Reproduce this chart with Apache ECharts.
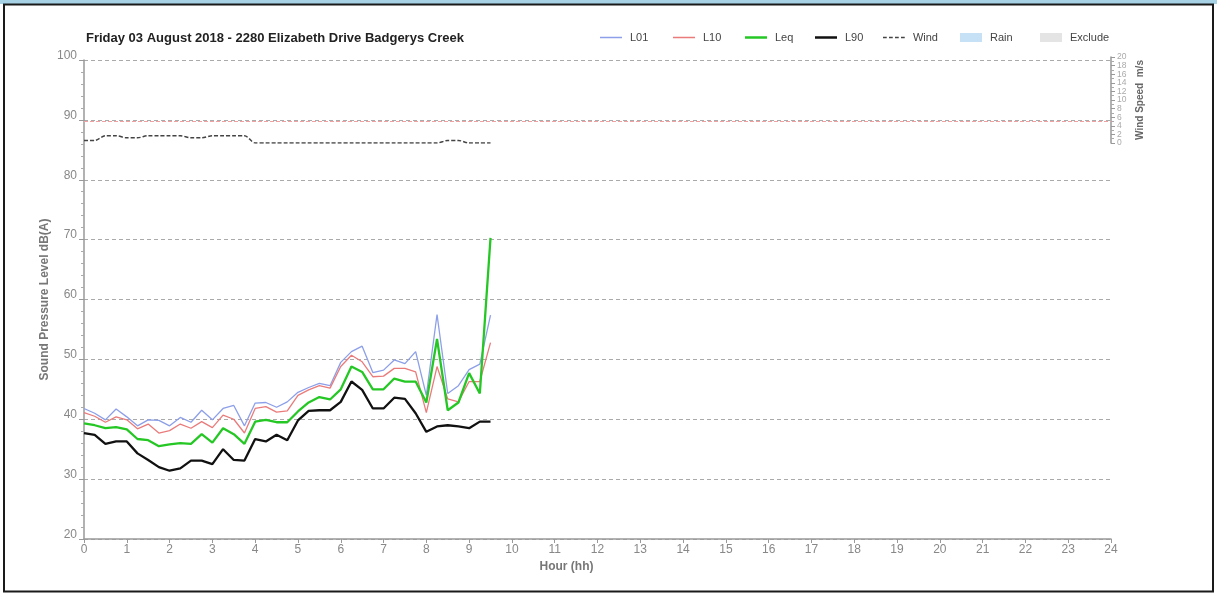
<!DOCTYPE html>
<html>
<head>
<meta charset="utf-8">
<title>Noise monitoring – Badgerys Creek</title>
<script src="https://cdn.jsdelivr.net/npm/echarts@6/dist/echarts.min.js"></script>
<style>
  html, body { margin: 0; padding: 0; background: #ffffff; }
  #chart { width: 1217px; height: 594px; }
</style>
</head>
<body>
<div id="chart"></div>
<script>
// 15-minute interval results, hour of day
const hours = [0, 0.25, 0.5, 0.75, 1, 1.25, 1.5, 1.75, 2, 2.25, 2.5, 2.75, 3, 3.25, 3.5, 3.75,
  4, 4.25, 4.5, 4.75, 5, 5.25, 5.5, 5.75, 6, 6.25, 6.5, 6.75, 7, 7.25, 7.5, 7.75,
  8, 8.25, 8.5, 8.75, 9, 9.25, 9.5];

// Sound pressure levels, dB(A)
const l01 = [41.8, 41.0, 39.9, 41.7, 40.4, 38.9, 39.9, 39.8, 38.9, 40.3,
  39.5, 41.5, 39.9, 41.8, 42.3, 38.9, 42.7, 42.8, 42.0, 42.9,
  44.5, 45.3, 46.0, 45.6, 49.5, 51.3, 52.2, 47.8, 48.2, 49.9,
  49.3, 51.3, 44.0, 57.5, 44.3, 45.6, 48.3, 49.2, 57.4];
const l10 = [41.1, 40.5, 39.5, 40.4, 39.9, 38.4, 39.2, 37.7, 38.1, 39.2,
  38.5, 39.6, 38.6, 40.7, 40.0, 37.7, 41.8, 42.1, 41.2, 41.4,
  44.0, 44.9, 45.6, 45.2, 48.8, 50.7, 49.6, 47.1, 47.2, 48.5,
  48.5, 47.9, 41.1, 48.8, 43.4, 42.9, 46.3, 46.3, 52.8];
const leq = [39.3, 39.0, 38.5, 38.7, 38.3, 36.7, 36.5, 35.5, 35.8, 36.0,
  35.9, 37.5, 36.1, 38.5, 37.5, 35.9, 39.6, 39.9, 39.5, 39.5,
  41.3, 42.8, 43.7, 43.3, 45.0, 48.8, 47.9, 45.0, 45.0, 46.8,
  46.3, 46.3, 42.8, 53.4, 41.5, 42.8, 47.7, 44.3, 70.3];
const l90 = [37.7, 37.4, 35.9, 36.3, 36.3, 34.3, 33.2, 32.0, 31.4, 31.8,
  33.1, 33.1, 32.5, 35.0, 33.2, 33.1, 36.7, 36.3, 37.4, 36.5,
  39.8, 41.4, 41.5, 41.5, 42.9, 46.3, 44.9, 41.8, 41.8, 43.6,
  43.4, 41.0, 37.9, 38.8, 39.0, 38.8, 38.5, 39.6, 39.6];

// Wind speed, m/s
const wind = [0.6, 0.6, 1.7, 1.7, 1.2, 1.2, 1.7, 1.7, 1.7, 1.7,
  1.2, 1.2, 1.7, 1.7, 1.7, 1.7, 0.0, 0.0, 0.0, 0.0,
  0.0, 0.0, 0.0, 0.0, 0.0, 0.0, 0.0, 0.0, 0.0, 0.0,
  0.0, 0.0, 0.0, 0.0, 0.6, 0.6, 0.0, 0.0, 0.0];
const windLimit = 5;

const legendNames = ['L01', 'L10', 'Leq', 'L90', 'Wind', 'Rain', 'Exclude'];
const titleText = 'Friday 03 August 2018 - 2280 Elizabeth Drive Badgerys Creek';

const pair = (vals) => hours.map((h, i) => [h, vals[i]]);

const font = '"Liberation Sans", Arial, sans-serif';

// legend key shapes: plain strokes for the level lines, a dashed stroke for wind, swatches for areas
const dashIcon = 'path://M0,0h5v2h-5z M8,0h5v2h-5z M16,0h5v2h-5z M24,0h5v2h-5z';
const legendLayout = {
  L01: { left: 600, icon: 'rect', h: 1.5 },
  L10: { left: 673, icon: 'rect', h: 1.5 },
  Leq: { left: 745, icon: 'rect', h: 2.5 },
  L90: { left: 815, icon: 'rect', h: 2.5 },
  Wind: { left: 883, icon: dashIcon, h: 1.5 },
  Rain: { left: 960, icon: 'rect', h: 9 },
  Exclude: { left: 1040, icon: 'rect', h: 9 }
};

// the wind scale is dense: its labels are split over two stacked axes so none get dropped
const windLabel = { fontSize: 8.5, color: '#aaa', margin: 6, interval: 0, hideOverlap: false, lineHeight: 7 };

const chart = echarts.init(document.getElementById('chart'), null, { renderer: 'canvas' });

chart.setOption({
  animation: false,
  backgroundColor: '#ffffff',
  textStyle: { fontFamily: font },
  title: {
    text: titleText,
    left: 86, top: 32, padding: 0,
    textStyle: { fontSize: 13, fontWeight: 'bold', color: '#222', fontFamily: font }
  },
  legend: legendNames.map((n) => ({
    data: [{ name: n, icon: legendLayout[n].icon }],
    left: legendLayout[n].left, top: 32, padding: 0,
    itemWidth: 22, itemHeight: legendLayout[n].h,
    textStyle: { fontSize: 11, color: '#444', fontFamily: font, padding: [0, 0, 0, 3] },
    selectedMode: false
  })),
  graphic: [
    { type: 'rect', shape: { x: 0, y: 0, width: 1217, height: 4 }, style: { fill: '#a7d2e6' }, silent: true },
    { type: 'rect', shape: { x: 4, y: 4.5, width: 1209, height: 587 },
      style: { fill: 'none', stroke: '#1a1a1a', lineWidth: 2 }, silent: true }
  ],
  grid: [
    { left: 84, right: 106, top: 60, bottom: 55 },
    { left: 84, right: 106, top: 57, height: 86 }
  ],
  xAxis: [
    {
      gridIndex: 0, type: 'value', min: 0, max: 24, interval: 1,
      name: 'Hour (hh)', nameLocation: 'middle', nameGap: 20,
      nameTextStyle: { fontSize: 12, fontWeight: 'bold', color: '#777', padding: [0, 62, 0, 0] },
      axisLine: { show: true, lineStyle: { color: '#999', width: 1.5 } },
      axisTick: { show: true, length: 4, lineStyle: { color: '#999' } },
      axisLabel: { fontSize: 12, color: '#888', margin: 5 },
      splitLine: { show: false }
    },
    { gridIndex: 1, type: 'value', min: 0, max: 24, show: false }
  ],
  yAxis: [
    {
      gridIndex: 0, type: 'value', min: 20, max: 100, interval: 10,
      name: 'Sound Pressure Level dB(A)', nameLocation: 'middle', nameGap: 33, nameRotate: 90,
      nameMoveOverlap: false,
      nameTextStyle: { fontSize: 12, fontWeight: 'bold', color: '#777' },
      axisLine: { show: true, onZero: false, lineStyle: { color: '#999', width: 1.5 } },
      axisTick: { show: true, length: 5, lineStyle: { color: '#999' } },
      minorTick: { show: true, splitNumber: 5, length: 3, lineStyle: { color: '#aaa' } },
      axisLabel: { fontSize: 12, color: '#888', margin: 7, verticalAlign: 'bottom', lineHeight: 9 },
      splitLine: { show: true, lineStyle: { color: '#aaa', type: [4, 3], width: 1 } }
    },
    {
      gridIndex: 1, type: 'value', position: 'right', min: 0, max: 20, interval: 2,
      name: 'Wind Speed  m/s', nameLocation: 'middle', nameGap: 24, nameRotate: 90,
      nameMoveOverlap: false,
      nameTextStyle: { fontSize: 10, fontWeight: 'bold', color: '#666' },
      axisLine: { show: true, onZero: false, lineStyle: { color: '#999', width: 1.5 } },
      axisTick: { show: true, length: 4, lineStyle: { color: '#999' } },
      minorTick: { show: true, splitNumber: 2, length: 3, lineStyle: { color: '#aaa' } },
      axisLabel: Object.assign({}, windLabel, { formatter: (v) => (v % 4 === 0 ? String(v) : '') }),
      splitLine: { show: false }
    },
    {
      gridIndex: 1, type: 'value', position: 'right', min: 0, max: 20, interval: 2,
      axisLine: { show: false, onZero: false },
      axisTick: { show: false },
      axisLabel: Object.assign({}, windLabel, { formatter: (v) => (v % 4 === 2 ? String(v) : '') }),
      splitLine: { show: false }
    }
  ],
  series: [
    { name: 'Rain', type: 'bar', xAxisIndex: 0, yAxisIndex: 0, data: [], itemStyle: { color: '#c6e1f6' } },
    { name: 'Exclude', type: 'bar', xAxisIndex: 0, yAxisIndex: 0, data: [], itemStyle: { color: '#e4e4e4' } },
    {
      name: 'L01', type: 'line', xAxisIndex: 0, yAxisIndex: 0, data: pair(l01),
      symbol: 'none', z: 3, lineStyle: { color: '#8c9fe8', width: 1.3 }, itemStyle: { color: '#8c9fe8' }
    },
    {
      name: 'L10', type: 'line', xAxisIndex: 0, yAxisIndex: 0, data: pair(l10),
      symbol: 'none', z: 4, lineStyle: { color: '#ea7b7b', width: 1.3 }, itemStyle: { color: '#ea7b7b' }
    },
    {
      name: 'Leq', type: 'line', xAxisIndex: 0, yAxisIndex: 0, data: pair(leq),
      symbol: 'none', z: 5, lineStyle: { color: '#25c725', width: 2.3 }, itemStyle: { color: '#25c725' }
    },
    {
      name: 'L90', type: 'line', xAxisIndex: 0, yAxisIndex: 0, data: pair(l90),
      symbol: 'none', z: 6, lineStyle: { color: '#111111', width: 2.3 }, itemStyle: { color: '#111111' }
    },
    {
      name: 'Wind', type: 'line', xAxisIndex: 1, yAxisIndex: 1, data: pair(wind),
      symbol: 'none', smooth: 0.3, z: 6,
      lineStyle: { color: '#444', width: 1.5, type: [4, 2] }, itemStyle: { color: '#444' },
      markLine: {
        silent: true, symbol: 'none', label: { show: false },
        lineStyle: { color: '#f0a2a2', type: [4, 2], width: 1 },
        data: [{ yAxis: windLimit }]
      }
    }
  ]
});
</script>
</body>
</html>
